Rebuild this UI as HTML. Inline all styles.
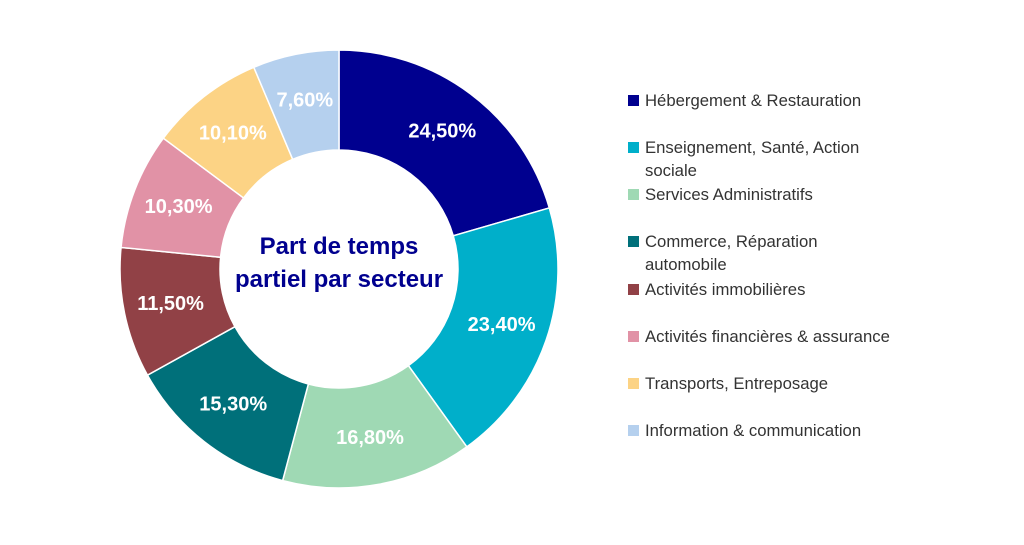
<!DOCTYPE html>
<html><head><meta charset="utf-8"><style>
body{margin:0;background:#fff;width:1024px;height:545px;overflow:hidden;font-family:"Liberation Sans",sans-serif}
.lg{position:absolute;left:628px;font-size:16.7px;color:#333;line-height:23px}
.lg i{position:absolute;left:0;top:6px;width:11px;height:11px}
.lg span{display:block;margin-left:17px;width:270px}
</style></head><body>
<svg id="s" width="1024" height="545" style="position:absolute;left:0;top:0"></svg>
<div class="lg" style="top:89px"><i style="background:#00008F"></i><span>Hébergement &amp; Restauration</span></div>
<div class="lg" style="top:136px"><i style="background:#00AFCA"></i><span>Enseignement, Santé, Action<br>sociale</span></div>
<div class="lg" style="top:183px"><i style="background:#9FD9B4"></i><span>Services Administratifs</span></div>
<div class="lg" style="top:230px"><i style="background:#00707A"></i><span>Commerce, Réparation<br>automobile</span></div>
<div class="lg" style="top:278px"><i style="background:#914146"></i><span>Activités immobilières</span></div>
<div class="lg" style="top:325px"><i style="background:#E192A6"></i><span>Activités financières &amp; assurance</span></div>
<div class="lg" style="top:372px"><i style="background:#FCD385"></i><span>Transports, Entreposage</span></div>
<div class="lg" style="top:419px"><i style="background:#B5D0EE"></i><span>Information &amp; communication</span></div>
<script>
var d=[[24.5,"#00008F","24,50%"],[23.4,"#00AFCA","23,40%"],[16.8,"#9FD9B4","16,80%"],[15.3,"#00707A","15,30%"],[11.5,"#914146","11,50%"],[10.3,"#E192A6","10,30%"],[10.1,"#FCD385","10,10%"],[7.6,"#B5D0EE","7,60%"]];
var cx=339,cy=269,R=219,r=119,t=0,h="",tot=0;d.forEach(function(x){tot+=x[0]});
function p(a,rr){return [cx+rr*Math.sin(a),cy-rr*Math.cos(a)]}
d.forEach(function(x){var a0=t/tot*2*Math.PI;t+=x[0];var a1=t/tot*2*Math.PI;var l=(a1-a0)>Math.PI?1:0;
var A=p(a0,R),B=p(a1,R),C=p(a1,r),D=p(a0,r);
h+='<path d="M'+A+' A'+R+' '+R+' 0 '+l+' 1 '+B+' L'+C+' A'+r+' '+r+' 0 '+l+' 0 '+D+'Z" fill="'+x[1]+'" stroke="#fff" stroke-width="1.5"/>';
var m=p((a0+a1)/2,(R+r)/2+3);h+='<text x="'+m[0]+'" y="'+(m[1]+6)+'" text-anchor="middle" fill="#fff" font-weight="bold" font-size="20">'+x[2]+'</text>';});
h+='<text x="339" y="254" text-anchor="middle" fill="#00008F" font-weight="bold" font-size="24">Part de temps</text><text x="339" y="287" text-anchor="middle" fill="#00008F" font-weight="bold" font-size="24">partiel par secteur</text>';
document.getElementById("s").innerHTML=h;
</script>
</body></html>
